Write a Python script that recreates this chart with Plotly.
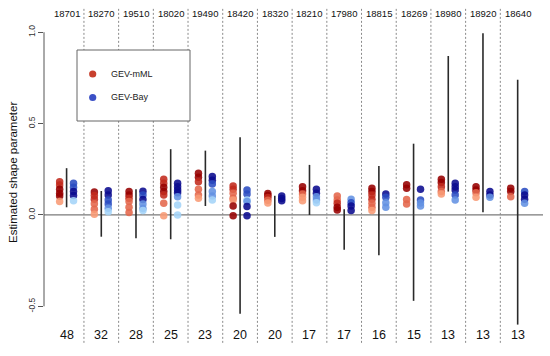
import plotly.graph_objects as go

# ---------------- data ----------------
station_ids = ["18701", "18270", "19510", "18020", "19490", "18420", "18320",
               "18210", "17980", "18815", "18269", "18980", "18920", "18640"]
sample_sizes = [48, 32, 28, 25, 23, 20, 20, 17, 17, 16, 15, 13, 13, 13]

mml_values = [
    [0.182, 0.164, 0.141, 0.119, 0.104, 0.073],
    [0.126, 0.106, 0.086, 0.062, 0.031, 0.004],
    [0.128, 0.109, 0.091, 0.073, 0.042, 0.013],
    [0.195, 0.173, 0.152, 0.128, 0.109, 0.064, -0.005],
    [0.228, 0.206, 0.182, 0.141, 0.109, 0.091],
    [0.159, 0.141, 0.119, 0.091, 0.082, 0.049, -0.004],
    [0.117, 0.106, 0.095, 0.080, 0.066],
    [0.155, 0.133, 0.115, 0.097, 0.078],
    [0.104, 0.082, 0.064, 0.042, 0.027],
    [0.146, 0.128, 0.109, 0.086, 0.064, 0.042, 0.024],
    [0.166, 0.146, 0.084, 0.060],
    [0.195, 0.177, 0.155, 0.128, 0.115],
    [0.155, 0.137, 0.122, 0.097],
    [0.146, 0.128, 0.100],
]
mml_level = [
    [1, 1, 0, 0, 0, 3],
    [0, 1, 1, 2, 2, 3],
    [0, 0, 1, 2, 2, 2],
    [1, 1, 0, 0, 1, 2, 3],
    [0, 0, 1, 2, 2, 3],
    [1, 1, 2, 2, 3, 0, 0],
    [0, 0, 1, 2, 3],
    [0, 0, 2, 3, 3],
    [2, 2, 1, 0, 0],
    [0, 0, 1, 1, 2, 2, 3],
    [0, 0, 2, 2],
    [0, 0, 1, 2, 3],
    [0, 0, 2, 3],
    [0, 0, 2],
]

bay_values = [
    [0.173, 0.152, 0.128, 0.106, 0.078],
    [0.133, 0.109, 0.082, 0.060, 0.037, 0.018],
    [0.130, 0.109, 0.084, 0.060, 0.035, 0.025],
    [0.173, 0.155, 0.137, 0.122, 0.100, 0.055, 0.000],
    [0.210, 0.190, 0.170, 0.128, 0.104, 0.082],
    [0.137, 0.115, 0.082, 0.073, 0.046, -0.004],
    [0.104, 0.090, 0.078],
    [0.141, 0.119, 0.100, 0.082, 0.067],
    [0.086, 0.067, 0.049, 0.024],
    [0.115, 0.097, 0.067, 0.042],
    [0.141, 0.082, 0.066, 0.049],
    [0.173, 0.155, 0.137, 0.109, 0.082],
    [0.128, 0.109, 0.097],
    [0.128, 0.109, 0.086, 0.064],
]
bay_level = [
    [1, 1, 0, 0, 3],
    [0, 0, 1, 1, 2, 3],
    [0, 1, 0, 2, 2, 3],
    [0, 0, 0, 0, 2, 3, 3],
    [0, 0, 1, 2, 2, 3],
    [1, 1, 3, 2, 0, 0],
    [0, 0, 0],
    [0, 0, 2, 2, 3],
    [2, 1, 0, 0],
    [0, 1, 2, 2],
    [0, 1, 2, 2],
    [0, 0, 0, 1, 2],
    [0, 0, 2],
    [1, 0, 0, 2],
]

interval_low = [0.042, -0.119, -0.128, -0.133, 0.049, -0.54, -0.120,
                0.000, -0.190, -0.220, -0.470, 0.128, 0.015, -0.600]
interval_high = [0.256, 0.131, 0.141, 0.360, 0.352, 0.425, 0.105,
                 0.274, 0.031, 0.268, 0.390, 0.870, 0.995, 0.740]

# ---------------- styling ----------------
RED = ["#960000", "#c22a1c", "#e4674b", "#f89a74"]
BLUE = ["#0a0a8e", "#2a4cc2", "#6392e2", "#a4d4f8"]
FONT = "Liberation Sans, Arial, Helvetica, sans-serif"

W, H = 550, 356
ML, MR, MT, MB = 44, 7, 5, 6
PW, PH = W - ML - MR, H - MT - MB
XR = [0.349, 14.73]
YR = [-0.739, 1.149]
OFF = 0.2


def pxx(px):
    return (px - ML) / PW


def pxy(py):
    return (H - MB - py) / PH


fig = go.Figure()

n = len(station_ids)
pos = list(range(1, n + 1))

# interval lines
lx, ly = [], []
for i in range(n):
    lx += [pos[i], pos[i], None]
    ly += [interval_low[i], interval_high[i], None]
fig.add_trace(go.Scatter(x=lx, y=ly, mode="lines",
                         line=dict(color="#2a2a2a", width=1.6),
                         hoverinfo="skip", showlegend=False))


def add_points(values, levels, palette, offset, name):
    xs, ys, cs = [], [], []
    for i in range(n):
        for v, lv in zip(values[i], levels[i]):
            xs.append(pos[i] + offset)
            ys.append(v)
            cs.append(palette[lv])
    fig.add_trace(go.Scatter(x=xs, y=ys, mode="markers", name=name,
                             marker=dict(size=7.5, color=cs, opacity=0.88,
                                         line=dict(width=0)),
                             showlegend=False))


add_points(mml_values, mml_level, RED, -OFF, "GEV-mML")
add_points(bay_values, bay_level, BLUE, OFF, "GEV-Bay")

shapes = []
# zero line
shapes.append(dict(type="line", xref="paper", yref="y", x0=0, x1=1, y0=0, y1=0,
                   line=dict(color="#7a7a7a", width=1.2), layer="below"))
# group separators
for i in range(n - 1):
    shapes.append(dict(type="line", xref="x", yref="y",
                       x0=pos[i] + 0.5, x1=pos[i] + 0.5, y0=-0.70, y1=1.133,
                       line=dict(color="#8a8a8a", width=1, dash="2px,2px"),
                       layer="above"))
# y axis line (only spanning tick range)
shapes.append(dict(type="line", xref="paper", yref="y", x0=0, x1=0, y0=-0.5, y1=1.0,
                   line=dict(color="#555555", width=1), layer="above"))
# legend box
shapes.append(dict(type="rect", xref="paper", yref="paper",
                   x0=pxx(77), x1=pxx(190), y0=pxy(121), y1=pxy(50),
                   fillcolor="white", line=dict(color="#666666", width=1),
                   layer="above"))
for cy, col in [(74, "#c8402e"), (97.5, "#3b50c6")]:
    shapes.append(dict(type="circle", xref="paper", yref="paper",
                       x0=pxx(92.7 - 3.6), x1=pxx(92.7 + 3.6),
                       y0=pxy(cy + 3.6), y1=pxy(cy - 3.6),
                       fillcolor=col, line=dict(width=0), layer="above"))

annotations = []
for i in range(n):
    annotations.append(dict(x=pos[i], y=1.100, xref="x", yref="y", text=station_ids[i],
                            showarrow=False, font=dict(size=9.5, color="#111", family=FONT)))
    annotations.append(dict(x=pos[i], y=-0.657, xref="x", yref="y", text=str(sample_sizes[i]),
                            showarrow=False, font=dict(size=12.5, color="#111", family=FONT)))
for cy, txt in [(74, "GEV-mML"), (97.5, "GEV-Bay")]:
    annotations.append(dict(x=pxx(109), y=pxy(cy), xref="paper", yref="paper", text=txt,
                            xanchor="left", yanchor="middle", showarrow=False,
                            font=dict(size=9, color="#222", family=FONT)))
annotations.append(dict(x=pxx(13), y=pxy(173), xref="paper", yref="paper",
                        text="Estimated shape parameter", textangle=-90,
                        showarrow=False, xanchor="center", yanchor="middle",
                        font=dict(size=11.5, color="#111", family=FONT)))

fig.update_layout(
    width=W, height=H, autosize=False,
    margin=dict(l=ML, r=MR, t=MT, b=MB, pad=0),
    paper_bgcolor="white", plot_bgcolor="white",
    showlegend=False, hovermode=False,
    xaxis=dict(range=XR, showgrid=False, zeroline=False, showline=False,
               showticklabels=False, ticks=""),
    yaxis=dict(range=YR, showgrid=False, zeroline=False, showline=False,
               tickvals=[-0.5, 0.0, 0.5, 1.0], ticktext=["-0.5", "0.0", "0.5", "1.0"],
               ticks="outside", ticklen=5, tickcolor="#555", tickwidth=1,
               tickangle=-90, tickfont=dict(size=8.5, color="#333", family=FONT)),
    shapes=shapes, annotations=annotations,
    font=dict(family=FONT),
)

fig.write_html("out.html", config={"displayModeBar": False},
               post_script="document.body.style.margin='0px';document.body.style.padding='0px';")
